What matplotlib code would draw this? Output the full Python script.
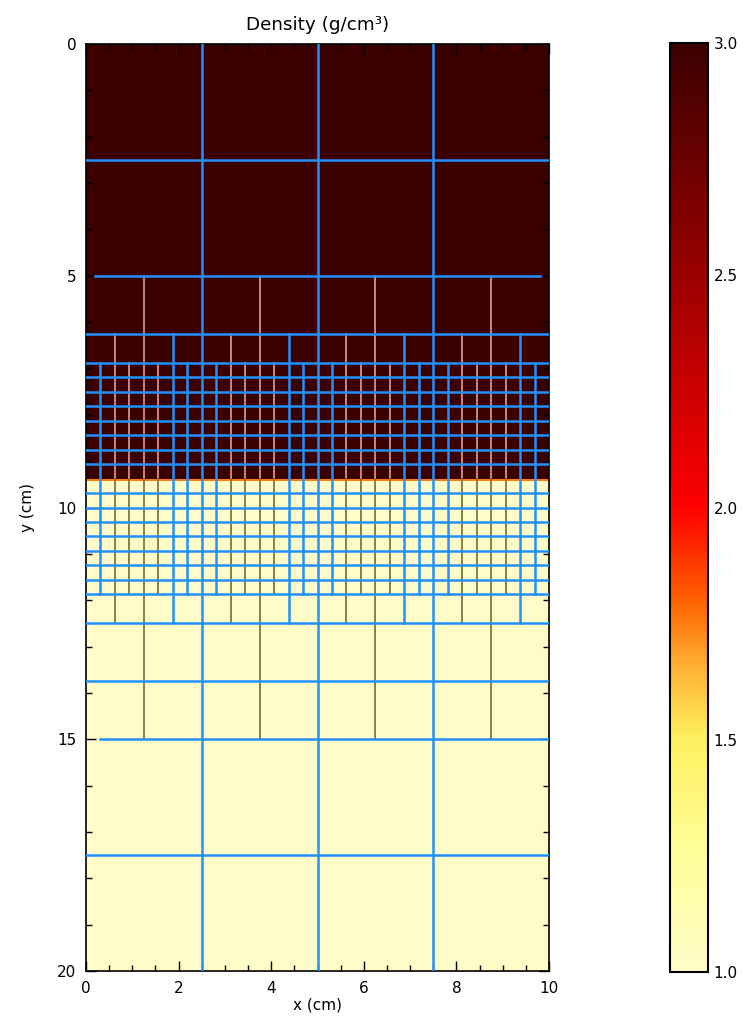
from matplotlib import pyplot as plt
from matplotlib.colors import LinearSegmentedColormap
import numpy as np

# density layers (cm, g/cm^3): heavy fluid on top, light fluid below
x_edges = [0.0, 10.0]
layer_edges = [0.0, 9.375, 9.42, 20.0]
layer_density = [3.0, 1.75, 1.0]
interface_y = 9.375

# block boundaries (blue): vertical (x, y0, y1) and horizontal (y, x0, x1)
block_vlines = [
    (2.5, 0, 20), (5.0, 0, 20), (7.5, 0, 20),
    (1.875, 6.25, 12.5), (4.375, 6.25, 12.5), (6.875, 6.25, 12.5), (9.375, 6.25, 12.5),
    (0.3125, 6.875, 11.875), (2.1875, 6.875, 11.875), (2.8125, 6.875, 11.875),
    (4.6875, 6.875, 11.875), (5.3125, 6.875, 11.875), (7.1875, 6.875, 11.875),
    (7.8125, 6.875, 11.875), (9.6875, 6.875, 11.875),
]
block_hlines = [
    (2.5, 0, 10), (5.0, 0.2, 9.8), (6.25, 0, 10),
    (6.875, 0, 10), (7.1875, 0, 10), (7.5, 0, 10), (7.8125, 0, 10),
    (8.125, 0, 10), (8.4375, 0, 10), (8.75, 0, 10), (9.0625, 0, 10),
    (9.6875, 0, 10), (10.0, 0, 10), (10.3125, 0, 10), (10.625, 0, 10),
    (10.9375, 0, 10), (11.25, 0, 10), (11.5625, 0, 10), (11.875, 0, 10),
    (12.5, 0, 10), (13.75, 0, 10), (15.0, 0.3, 10), (17.5, 0, 10),
]
# cell lines inside blocks (x, y0, y1)
cell_vlines = [
    (1.25, 5, 15), (3.75, 5, 15), (6.25, 5, 15), (8.75, 5, 15),
    (0.625, 6.25, 12.5), (3.125, 6.25, 12.5), (5.625, 6.25, 12.5), (8.125, 6.25, 12.5),
    (0.9375, 6.875, 11.875), (1.5625, 6.875, 11.875), (3.4375, 6.875, 11.875),
    (4.0625, 6.875, 11.875), (5.9375, 6.875, 11.875), (6.5625, 6.875, 11.875),
    (8.4375, 6.875, 11.875), (9.0625, 6.875, 11.875),
]

cbar_ticks = [1.0, 1.5, 2.0, 2.5, 3.0]

plt.rcParams['font.family'] = ['DejaVu Sans']
plt.rcParams['font.size'] = 11

cmap = LinearSegmentedColormap.from_list('dens', [
    (0.0, '#fffcc8'), (0.125, '#ffff9a'), (0.25, '#fff060'), (0.33, '#ffb030'),
    (0.4, '#ff6000'), (0.5, '#ff0000'), (0.75, '#9a0000'), (1.0, '#3a0000')])

fig = plt.figure(figsize=(7.52, 10.32), dpi=100, facecolor='w')
ax = fig.add_axes([86 / 752, 61 / 1032, 463 / 752, 927 / 1032])

dens = np.array(layer_density).reshape(-1, 1)
im = ax.pcolormesh(x_edges, layer_edges, dens, cmap=cmap, vmin=1.0, vmax=3.0)

blue = '#2191ff'
for x, y0, y1 in cell_vlines:
    if y0 < interface_y:
        ax.plot([x, x], [y0, min(y1, interface_y)], color='#d89090', lw=1.3, zorder=2)
    if y1 > interface_y:
        ax.plot([x, x], [max(y0, interface_y), y1], color='#7e7440', lw=1.3, zorder=2)
for x, y0, y1 in block_vlines:
    ax.plot([x, x], [y0, y1], color=blue, lw=1.8, zorder=3)
for y, x0, x1 in block_hlines:
    ax.plot([x0, x1], [y, y], color=blue, lw=1.8, zorder=3)

ax.set_xlim(0, 10)
ax.set_ylim(20, 0)
ax.set_xticks(np.arange(0, 11, 2))
ax.set_xticks(np.arange(0, 10.01, 0.5), minor=True)
ax.set_yticks(np.arange(0, 21, 5))
ax.set_yticks(np.arange(0, 21, 1), minor=True)
ax.tick_params(which='both', direction='in', top=True, right=True, width=1)
ax.tick_params(which='major', length=7, pad=7)
ax.tick_params(which='minor', length=4)
for s in ax.spines.values():
    s.set_linewidth(1.2)
ax.set_xlabel('x (cm)', labelpad=1)
ax.set_ylabel('y (cm)', labelpad=16)
ax.set_title('Density (g/cm³)', pad=10)

cax = fig.add_axes([670 / 752, 60 / 1032, 38 / 752, 929 / 1032])
cb = fig.colorbar(im, cax=cax, ticks=cbar_ticks)
cb.ax.set_yticklabels(['%.1f' % t for t in cbar_ticks])
cb.ax.tick_params(length=0, pad=4)
cb.outline.set_linewidth(1.5)

fig.savefig('out.png', dpi=100)
